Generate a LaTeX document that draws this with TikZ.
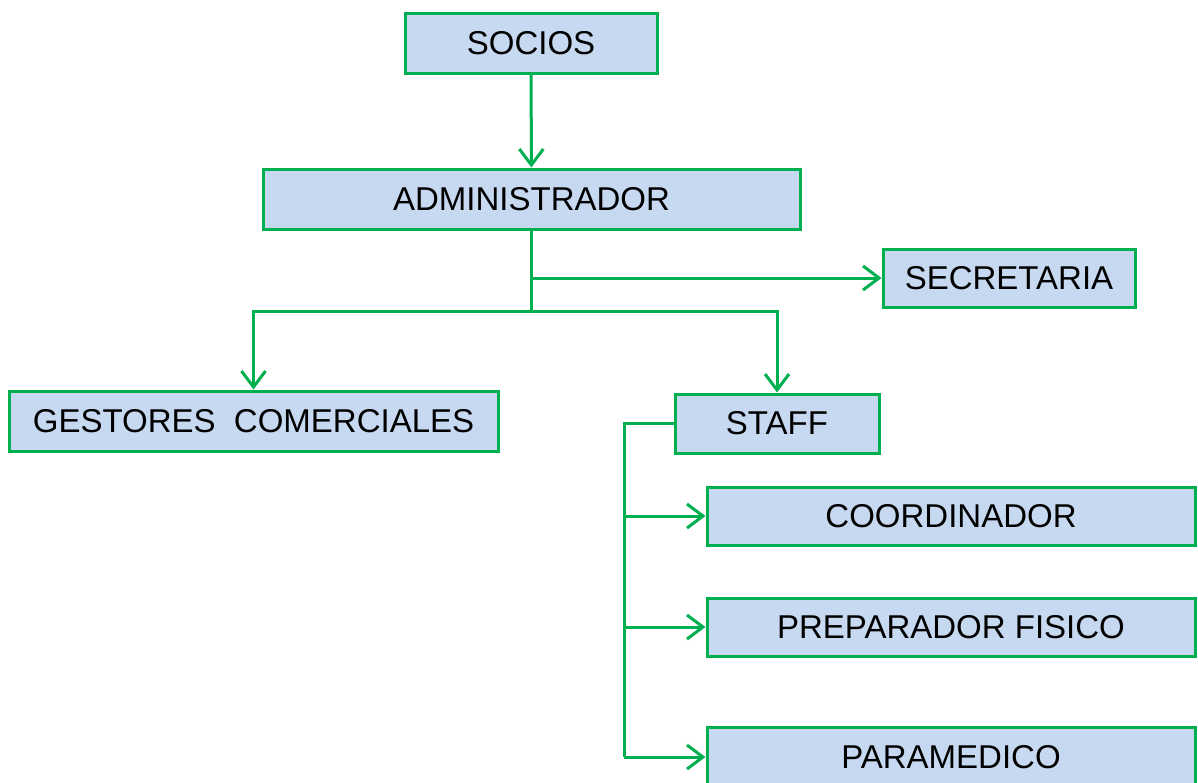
\documentclass[tikz,border=0pt]{standalone}
\usepackage{fontspec}
\setmainfont{Liberation Sans}
\usetikzlibrary{arrows.meta}
\definecolor{boxfill}{HTML}{C6D9F1}
\definecolor{boxline}{HTML}{00B050}
\begin{document}
\begin{tikzpicture}[x=1pt,y=-1pt,
  orgbox/.style={draw=boxline, fill=boxfill, line width=3pt, inner sep=0pt,
    font=\fontsize{33}{39}\selectfont, text=black},
  conn/.style={draw=boxline, line width=3pt},
  arr/.style={conn, -{Straight Barb[length=16pt,width=24pt,line width=3pt]}}]
\useasboundingbox (0,0) rectangle (1198,782);
\fill[white] (0,0) rectangle (1198,782);
\node[orgbox, minimum width=252pt, minimum height=60pt] (socios) at (531,43) {SOCIOS};
\node[orgbox, minimum width=537pt, minimum height=60pt] (admin) at (531.5,199) {ADMINISTRADOR};
\node[orgbox, minimum width=252pt, minimum height=58pt] (secr) at (1009,278) {SECRETARIA};
\node[orgbox, minimum width=489pt, minimum height=60pt] (gest) at (253.5,421) {GESTORES\ \ COMERCIALES};
\node[orgbox, minimum width=204pt, minimum height=59pt] (staff) at (777,423.5) {STAFF};
\node[orgbox, minimum width=488pt, minimum height=58pt] (coord) at (951,516) {COORDINADOR};
\node[orgbox, minimum width=488pt, minimum height=58pt] (prep) at (951,627) {PREPARADOR FISICO};
\node[orgbox, minimum width=488pt, minimum height=60pt] (para) at (951,757) {PARAMEDICO};
\coordinate (j) at (531.5,311);
\coordinate (sx) at (624,423.5);
\coordinate (sb) at (624,757);
\draw[arr] (socios) -- (admin);
\draw[conn] (admin.south) -- (j);
\draw[arr] (admin.south |- secr.west) -- (secr.west);
\draw[arr] (j) -| (gest.north);
\draw[arr] (j) -| (staff.north);
\draw[conn] (staff.west) -- (sx) -- (sb);
\draw[arr] (sx |- coord.west) -- (coord.west);
\draw[arr] (sx |- prep.west) -- (prep.west);
\draw[arr] (sb) -- (para.west);
\end{tikzpicture}
\end{document}
